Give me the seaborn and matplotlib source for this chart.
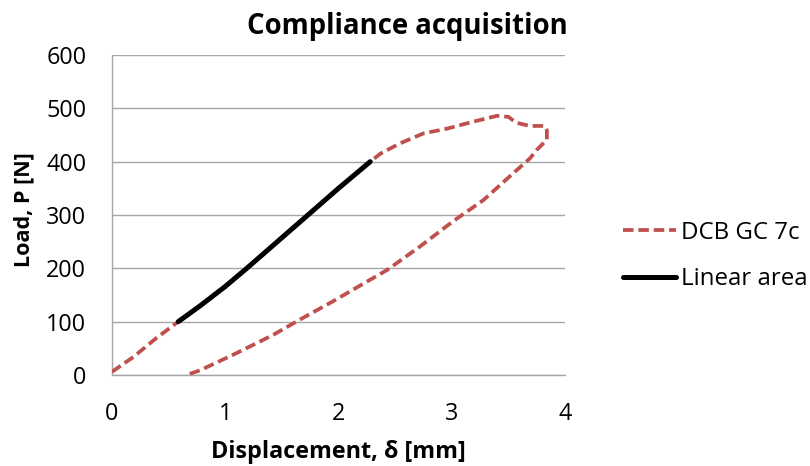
import matplotlib
matplotlib.use("Agg")
import matplotlib.pyplot as plt
from matplotlib.lines import Line2D
import seaborn as sns
import pandas as pd

# Load-displacement loop of specimen DCB GC 7c (loading, peak, unloading)
disp_mm = [0.00, 0.19, 0.39, 0.585, 0.78, 1.00, 1.19, 1.46, 1.73, 2.00, 2.28,
           2.37, 2.54, 2.75, 2.96, 3.19, 3.40, 3.50, 3.57, 3.69, 3.82, 3.84,
           3.84, 3.75, 3.69, 3.51, 3.28, 3.01, 2.72, 2.43, 2.25, 1.95, 1.66,
           1.43, 1.28, 1.07, 0.78, 0.66]
load_n = [6, 34, 69, 100, 130, 166, 200, 250, 300, 350, 400,
          415, 434, 453, 462, 475, 486, 484, 473, 467, 467, 459,
          441, 422, 406, 372, 328, 288, 241, 197, 175, 138, 104,
          76, 60, 38, 9, 0]

# Linear part of the loading branch used for the compliance fit
lin_disp_mm = [0.585, 0.78, 1.00, 1.19, 1.46, 1.73, 2.00, 2.28]
lin_load_n = [100, 130, 166, 200, 250, 300, 350, 400]

x_ticks = [0, 1, 2, 3, 4]
y_ticks = [0, 100, 200, 300, 400, 500, 600]

sns.set_theme(style="white")
plt.rcParams["font.family"] = ["Open Sans", "DejaVu Sans"]
plt.rcParams["text.color"] = "black"

curve = pd.DataFrame({"disp": disp_mm, "load": load_n})
linear = pd.DataFrame({"disp": lin_disp_mm, "load": lin_load_n})

fig = plt.figure(figsize=(8.10, 4.66), dpi=100)
ax = fig.add_axes([112 / 810, 1 - 375 / 466, 453 / 810, 320 / 466])

red = "#C0504D"
grid_c = "#A6A6A6"
red_lw = 2.7
red_dashes = (2.8, 1.3)

sns.lineplot(data=curve, x="disp", y="load", sort=False, estimator=None,
             color=red, linewidth=red_lw, ax=ax, zorder=3)
ax.lines[-1].set_dashes(red_dashes)
sns.lineplot(data=linear, x="disp", y="load", sort=False, estimator=None,
             color="black", linewidth=3.6, ax=ax, zorder=4)
ax.lines[-1].set_solid_capstyle("round")

ax.set_xlim(0, 4)
ax.set_ylim(0, 600)
ax.set_xticks(x_ticks)
ax.set_yticks(y_ticks)
ax.set_xticklabels([str(v) for v in x_ticks])
ax.set_yticklabels([str(v) for v in y_ticks])
ax.yaxis.grid(True, color=grid_c, linewidth=1.0)
ax.xaxis.grid(False)
ax.set_axisbelow(True)
for side in ("top", "right"):
    ax.spines[side].set_visible(False)
for side in ("left", "bottom"):
    ax.spines[side].set_color(grid_c)
    ax.spines[side].set_linewidth(1.0)
ax.tick_params(axis="both", which="major", direction="out", length=6.5,
               width=1.0, color=grid_c, labelsize=16.8, labelcolor="black")
ax.tick_params(axis="y", pad=12)
ax.tick_params(axis="x", pad=13)
ax.set_xlabel("")
ax.set_ylabel("")

fig.text(407 / 810, 1 - 34 / 466, "Compliance acquisition", ha="center",
         va="baseline", fontsize=19.8, fontweight="bold", color="black")
fig.text(338.5 / 810, 1 - 458 / 466, "Displacement, δ [mm]", ha="center",
         va="baseline", fontsize=16.8, fontweight="bold", color="black")
fig.text(24 / 810, 1 - 210 / 466, "Load, P [N]", ha="center", va="center",
         rotation=90, fontsize=15.5, fontweight="bold", color="black")

handles = [
    Line2D([], [], color=red, linewidth=red_lw, dashes=red_dashes),
    Line2D([], [], color="black", linewidth=3.6, solid_capstyle="round"),
]
fig.legend(handles, ["DCB GC 7c", "Linear area"], loc="center left",
           bbox_to_anchor=(623 / 810, 1 - 256 / 466), frameon=False,
           fontsize=17.3, handlelength=2.2, handletextpad=0.2,
           labelspacing=0.95, borderpad=0, borderaxespad=0)

fig.savefig("out.png", dpi=100)
